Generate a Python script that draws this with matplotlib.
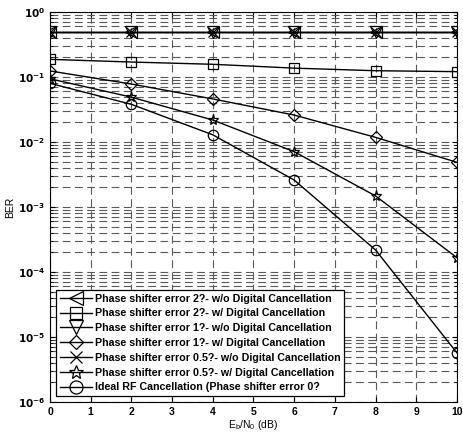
import numpy as np
import matplotlib.pyplot as plt

# Eb/N0 points (dB)
snr = [0, 2, 4, 6, 8, 10]

# BER curves
ber_2deg_wo = [0.5, 0.5, 0.5, 0.5, 0.5, 0.5]
ber_2deg_w = [0.187, 0.170, 0.157, 0.137, 0.125, 0.121]
ber_1deg_wo = [0.5, 0.5, 0.5, 0.5, 0.5, 0.5]
ber_1deg_w = [0.124, 0.078, 0.046, 0.026, 0.0118, 0.00487]
ber_05deg_wo = [0.5, 0.5, 0.5, 0.5, 0.5, 0.5]
ber_05deg_w = [0.094, 0.049, 0.0218, 0.0071, 0.00148, 1.66e-4]
ber_ideal = [0.080, 0.038, 0.0129, 0.0026, 2.18e-4, 5.7e-6]

labels = ['Phase shifter error 2?- w/o Digital Cancellation',
          'Phase shifter error 2?- w/ Digital Cancellation',
          'Phase shifter error 1?- w/o Digital Cancellation',
          'Phase shifter error 1?- w/ Digital Cancellation',
          'Phase shifter error 0.5?- w/o Digital Cancellation',
          'Phase shifter error 0.5?- w/ Digital Cancellation',
          'Ideal RF Cancellation (Phase shifter error 0?']

plt.rcParams['font.family'] = ['Liberation Sans', 'DejaVu Sans']

fig = plt.figure(figsize=(4.63, 4.37), dpi=100)
ax = fig.add_axes([0.108, 0.080, 0.879, 0.8925])

series = [ber_2deg_wo, ber_2deg_w, ber_1deg_wo, ber_1deg_w,
          ber_05deg_wo, ber_05deg_w, ber_ideal]
markers = ['<', 's', 'v', 'D', 'x', '*', 'o']
msizes = [8, 7, 8, 6, 7, 8, 7.5]
for y, m, ms, lab in zip(series, markers, msizes, labels):
    ax.semilogy(snr, y, color='black', lw=1.0, marker=m, ms=ms,
                mfc='none', mec='black', mew=0.9, label=lab)

ax.set_xlim(0, 10)
ax.set_ylim(1e-6, 1)
ax.set_xticks(range(11))
ax.set_xticklabels([str(i) for i in range(11)], fontweight='bold', fontsize=7.5)
yt = [10.0 ** k for k in range(-6, 1)]
ax.set_yticks(yt)
ax.set_yticklabels([r'$\mathbf{10^{%d}}$' % k for k in range(-6, 1)], fontsize=7.5)

ax.grid(True, which='major', axis='both', color='0.35', linestyle=(0, (7, 4)), lw=0.8)
ax.grid(True, which='minor', axis='y', color='0.35', linestyle=(0, (7, 4)), lw=0.8)
ax.tick_params(which='both', direction='in', top=True, right=True)
ax.tick_params(axis='x', which='minor', bottom=False, top=False)

ax.set_xlabel(r'E$_\mathregular{b}$/N$_\mathregular{0}$ (dB)', fontsize=7.5, labelpad=1)
ax.set_ylabel('BER', fontsize=7.5, labelpad=2)

leg = ax.legend(loc='lower left', prop={'weight': 'bold', 'size': 7.7},
                fancybox=False, edgecolor='black', framealpha=1,
                borderaxespad=0.6, labelspacing=0.45, handlelength=3.0,
                handletextpad=0.3, borderpad=0.3, markerscale=1.25)
leg.get_frame().set_linewidth(0.9)

fig.savefig('out.png', dpi=100)
